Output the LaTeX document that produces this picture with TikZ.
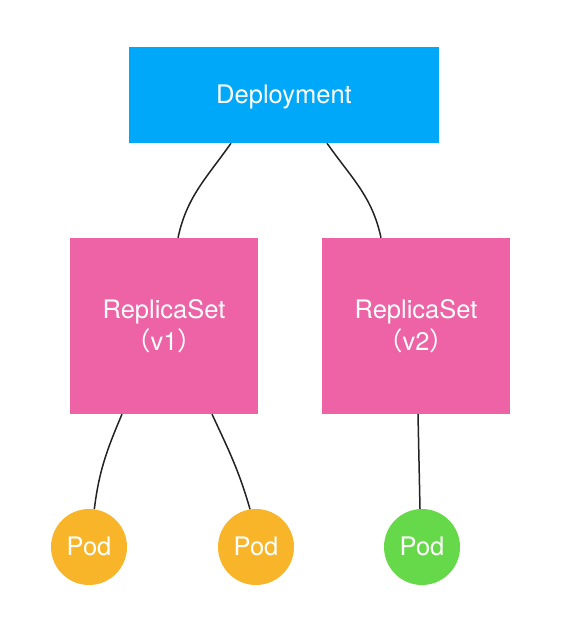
\documentclass[tikz,border=0pt]{standalone}
\usepackage{fontspec}
\setmainfont{TeX Gyre Heros}
\newfontfamily\cjkfont{Noto Sans CJK SC}
\begin{document}
\definecolor{deployblue}{RGB}{0,168,250}
\definecolor{rspink}{RGB}{238,98,166}
\definecolor{podorange}{RGB}{248,181,42}
\definecolor{podgreen}{RGB}{102,217,74}
\definecolor{linkgray}{RGB}{34,34,34}
\begin{tikzpicture}[x=1pt,y=1pt,
  box/.style={rectangle, inner sep=0pt, text=white,
    font=\fontsize{25.5}{32}\selectfont, align=center},
  deploybox/.style={box, fill=deployblue, minimum width=310pt, minimum height=96pt,
    text height=18pt, text depth=0pt},
  rsbox/.style={box, fill=rspink, minimum width=188pt, minimum height=176pt},
  pod/.style={circle, inner sep=0pt, minimum size=76pt, text=white,
    font=\fontsize{25.5}{30}\selectfont, text height=18pt, text depth=0pt},
  orangepod/.style={pod, fill=podorange},
  greenpod/.style={pod, fill=podgreen},
  link/.style={draw=linkgray, line width=1.5pt}]
\useasboundingbox (0,0) rectangle (564,620);

% boxes
\node[deploybox] (dep) at (284,525) {Deployment};
\node[rsbox] (rs1) at (164,294) {ReplicaSet\\{\cjkfont （}v1{\cjkfont ）}};
\node[rsbox] (rs2) at (416,294) {ReplicaSet\\{\cjkfont （}v2{\cjkfont ）}};

% pods
\node[orangepod] (pod1) at (89,73) {Pod};
\node[orangepod] (pod2) at (256,73) {Pod};
\node[greenpod] (pod3) at (422,73) {Pod};

% links
\draw[link] ([xshift=-53pt]dep.south) to[out=235,in=78] ([xshift=14pt]rs1.north);
\draw[link] ([xshift=43pt]dep.south) to[out=-55,in=102] ([xshift=-35pt]rs2.north);
\draw[link] ([xshift=-42pt]rs1.south) to[out=247,in=83] (pod1.82);
\draw[link] ([xshift=48pt]rs1.south) to[out=-65,in=106] (pod2.99);
\draw[link] ([xshift=2pt]rs2.south) -- (pod3.93);
\end{tikzpicture}
\end{document}
